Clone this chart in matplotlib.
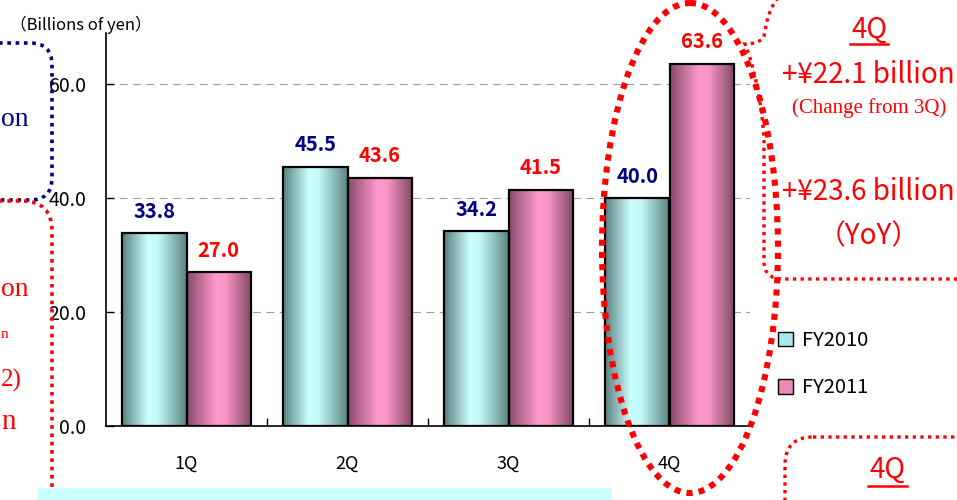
# -*- coding: utf-8 -*-
# Quarterly results bar chart, FY2010 vs FY2011

import numpy as np
import matplotlib
matplotlib.use("Agg")
import matplotlib.pyplot as plt
from matplotlib.patches import Ellipse, FancyBboxPatch, Rectangle, PathPatch, Patch
from matplotlib.path import Path
from matplotlib.colors import LinearSegmentedColormap

plt.rcParams['font.family'] = ['Noto Sans CJK JP', 'DejaVu Sans']

quarters = ['1Q', '2Q', '3Q', '4Q']
fy2010 = [33.8, 45.5, 34.2, 40.0]
fy2011 = [27.0, 43.6, 41.5, 63.6]
series_names = ['FY2010', 'FY2011']
yticks = [0, 20, 40, 60]

W, H = 957, 500
fig = plt.figure(figsize=(W / 100, H / 100), dpi=100)
fig.patch.set_facecolor('white')

# main plot area (pixel box: x 106..750, y 33..426)
ax = fig.add_axes([106 / W, (H - 426) / H, (750 - 106) / W, (426 - 33) / H])

cyan_cmap = LinearSegmentedColormap.from_list(
    'cy', [(0, '#5a8080'), (0.4, '#ccffff'), (0.55, '#c4fafa'), (1, '#5a8282')])
pink_cmap = LinearSegmentedColormap.from_list(
    'pk', [(0, '#8a4a6c'), (0.45, '#ff99cc'), (0.6, '#f894c6'), (1, '#7e4862')])
grad = np.linspace(0, 1, 256).reshape(1, -1)

x = np.arange(len(quarters))
bw = 0.4
for vals, off, cmap in [(fy2010, -bw / 2, cyan_cmap), (fy2011, bw / 2, pink_cmap)]:
    bars = ax.bar(x + off, vals, bw, facecolor='none', edgecolor='black',
                  linewidth=1.6, zorder=4)
    for b in bars:
        x0, w, h = b.get_x(), b.get_width(), b.get_height()
        im = ax.imshow(grad, cmap=cmap, extent=[x0, x0 + w, 0, h],
                       aspect='auto', zorder=3)
        im.set_clip_path(b)

for i in range(len(quarters)):
    ax.text(x[i] - bw / 2, fy2010[i] + 2.0, '%.1f' % fy2010[i], ha='center', va='bottom',
            color='#000080', fontsize=14.5, fontweight='bold')
    ax.text(x[i] + bw / 2, fy2011[i] + 2.0, '%.1f' % fy2011[i], ha='center', va='bottom',
            color='#ff0000', fontsize=14.5, fontweight='bold')

ax.set_xlim(-0.5, 3.5)
ax.set_ylim(0, 69)
ax.set_yticks(yticks)
ax.set_yticklabels(['%.1f' % v for v in yticks], fontsize=14)
ax.set_xticks(x)
ax.set_xticklabels(quarters, fontsize=13)
ax.set_xticks([0.5, 1.5, 2.5], minor=True)
ax.tick_params(axis='x', which='major', length=0, pad=21)
ax.tick_params(axis='x', which='minor', direction='in', length=6, width=1)
ax.tick_params(axis='y', direction='in', length=6, width=1, pad=14)
ax.grid(axis='y', color='#999999', linestyle=(0, (7, 5)), linewidth=0.8, zorder=1)
ax.set_axisbelow(True)
for s in ['top', 'right']:
    ax.spines[s].set_visible(False)
ax.spines['left'].set_linewidth(1.2)
ax.spines['bottom'].set_linewidth(1.2)
ax.set_facecolor('none')

fig.legend(handles=[Patch(facecolor='#a8e8e8', edgecolor='black', label=series_names[0]),
                    Patch(facecolor='#e98ab8', edgecolor='black', label=series_names[1])],
           loc='upper left', bbox_to_anchor=(760 / W, 1 - 312 / H), frameon=False,
           fontsize=14.5, handlelength=0.75, handleheight=0.75, handletextpad=0.45,
           labelspacing=1.3)

# overlay in pixel coordinates for the slide decorations
ov = fig.add_axes([0, 0, 1, 1], zorder=10)
ov.set_xlim(0, W)
ov.set_ylim(H, 0)
ov.axis('off')
ov.patch.set_alpha(0)

ov.text(10, 25, '（Billions of yen）', fontsize=12, va='center', ha='left')

# dotted boxes on the left (cut off by the slide edge)
ov.add_patch(FancyBboxPatch((-150, 43), 202, 157, boxstyle='round,pad=0,rounding_size=22',
                            fill=False, edgecolor='#000080', linewidth=2.6,
                            linestyle=(0, (1, 1.3))))
ov.add_patch(FancyBboxPatch((-150, 201), 202, 400, boxstyle='round,pad=0,rounding_size=30',
                            fill=False, edgecolor='#ff0000', linewidth=2.6,
                            linestyle=(0, (1, 1.3))))
ov.text(1, 119, 'on', color='#000080', fontsize=20, family='Liberation Serif',
        ha='left', va='center')
ov.text(1, 290, 'on', color='#ff0000', fontsize=20, family='Liberation Serif',
        ha='left', va='center')
ov.text(1, 335, 'n', color='#ff0000', fontsize=11, family='Liberation Serif',
        ha='left', va='center')
ov.text(1, 380, '2)', color='#ff0000', fontsize=18, family='Liberation Serif',
        ha='left', va='center')
ov.text(1, 422, 'n', color='#ff0000', fontsize=21, family='Liberation Serif',
        ha='left', va='center')

# big ellipse around 4Q
ov.add_patch(Ellipse((690, 248), 176, 490, fill=False, edgecolor='#ff0000',
                     linewidth=4.4, linestyle=(0, (1, 1))))

# callout box top right
verts = [(778, -2), (768, 10), (766, 25), (764, 36),
         (762, 42), (752, 44), (745, 44),
         (752, 60), (762, 100), (764, 140),
         (764, 262),
         (764, 272), (770, 279), (782, 279),
         (965, 279)]
codes = [Path.MOVETO, Path.CURVE4, Path.CURVE4, Path.CURVE4,
         Path.CURVE4, Path.CURVE4, Path.CURVE4,
         Path.CURVE4, Path.CURVE4, Path.CURVE4,
         Path.LINETO,
         Path.CURVE4, Path.CURVE4, Path.CURVE4,
         Path.LINETO]
ov.add_patch(PathPatch(Path(verts, codes), fill=False, edgecolor='#ff0000',
                       linewidth=2.4, linestyle=(0, (1, 1.3))))

ov.text(869, 30, '4Q', color='#ff0000', fontsize=20, ha='center', va='center')
ov.plot([850, 888], [44, 44], color='#ff0000', linewidth=1.8)
ov.text(782, 75, '+¥22.1 billion', color='#ff0000', fontsize=20, ha='left', va='center')
ov.text(869, 108, '(Change from 3Q)', color='#ff0000', fontsize=15,
        family='Liberation Serif', ha='center', va='center')
ov.text(782, 192, '+¥23.6 billion', color='#ff0000', fontsize=20, ha='left', va='center')
ov.text(869, 236, '（YoY）', color='#ff0000', fontsize=20, ha='center', va='center')

# box bottom right
ov.add_patch(FancyBboxPatch((785, 437), 300, 200, boxstyle='round,pad=0,rounding_size=28',
                            fill=False, edgecolor='#ff0000', linewidth=2.4,
                            linestyle=(0, (1, 1.3))))
ov.text(888, 470, '4Q', color='#ff0000', fontsize=20, ha='center', va='center')
ov.plot([868, 907], [486, 486], color='#ff0000', linewidth=1.8)

# light cyan strip at the bottom
ov.add_patch(Rectangle((37, 488), 575, 14, facecolor='#ccffff', edgecolor='none', zorder=5))

fig.savefig('out.png', dpi=100)
